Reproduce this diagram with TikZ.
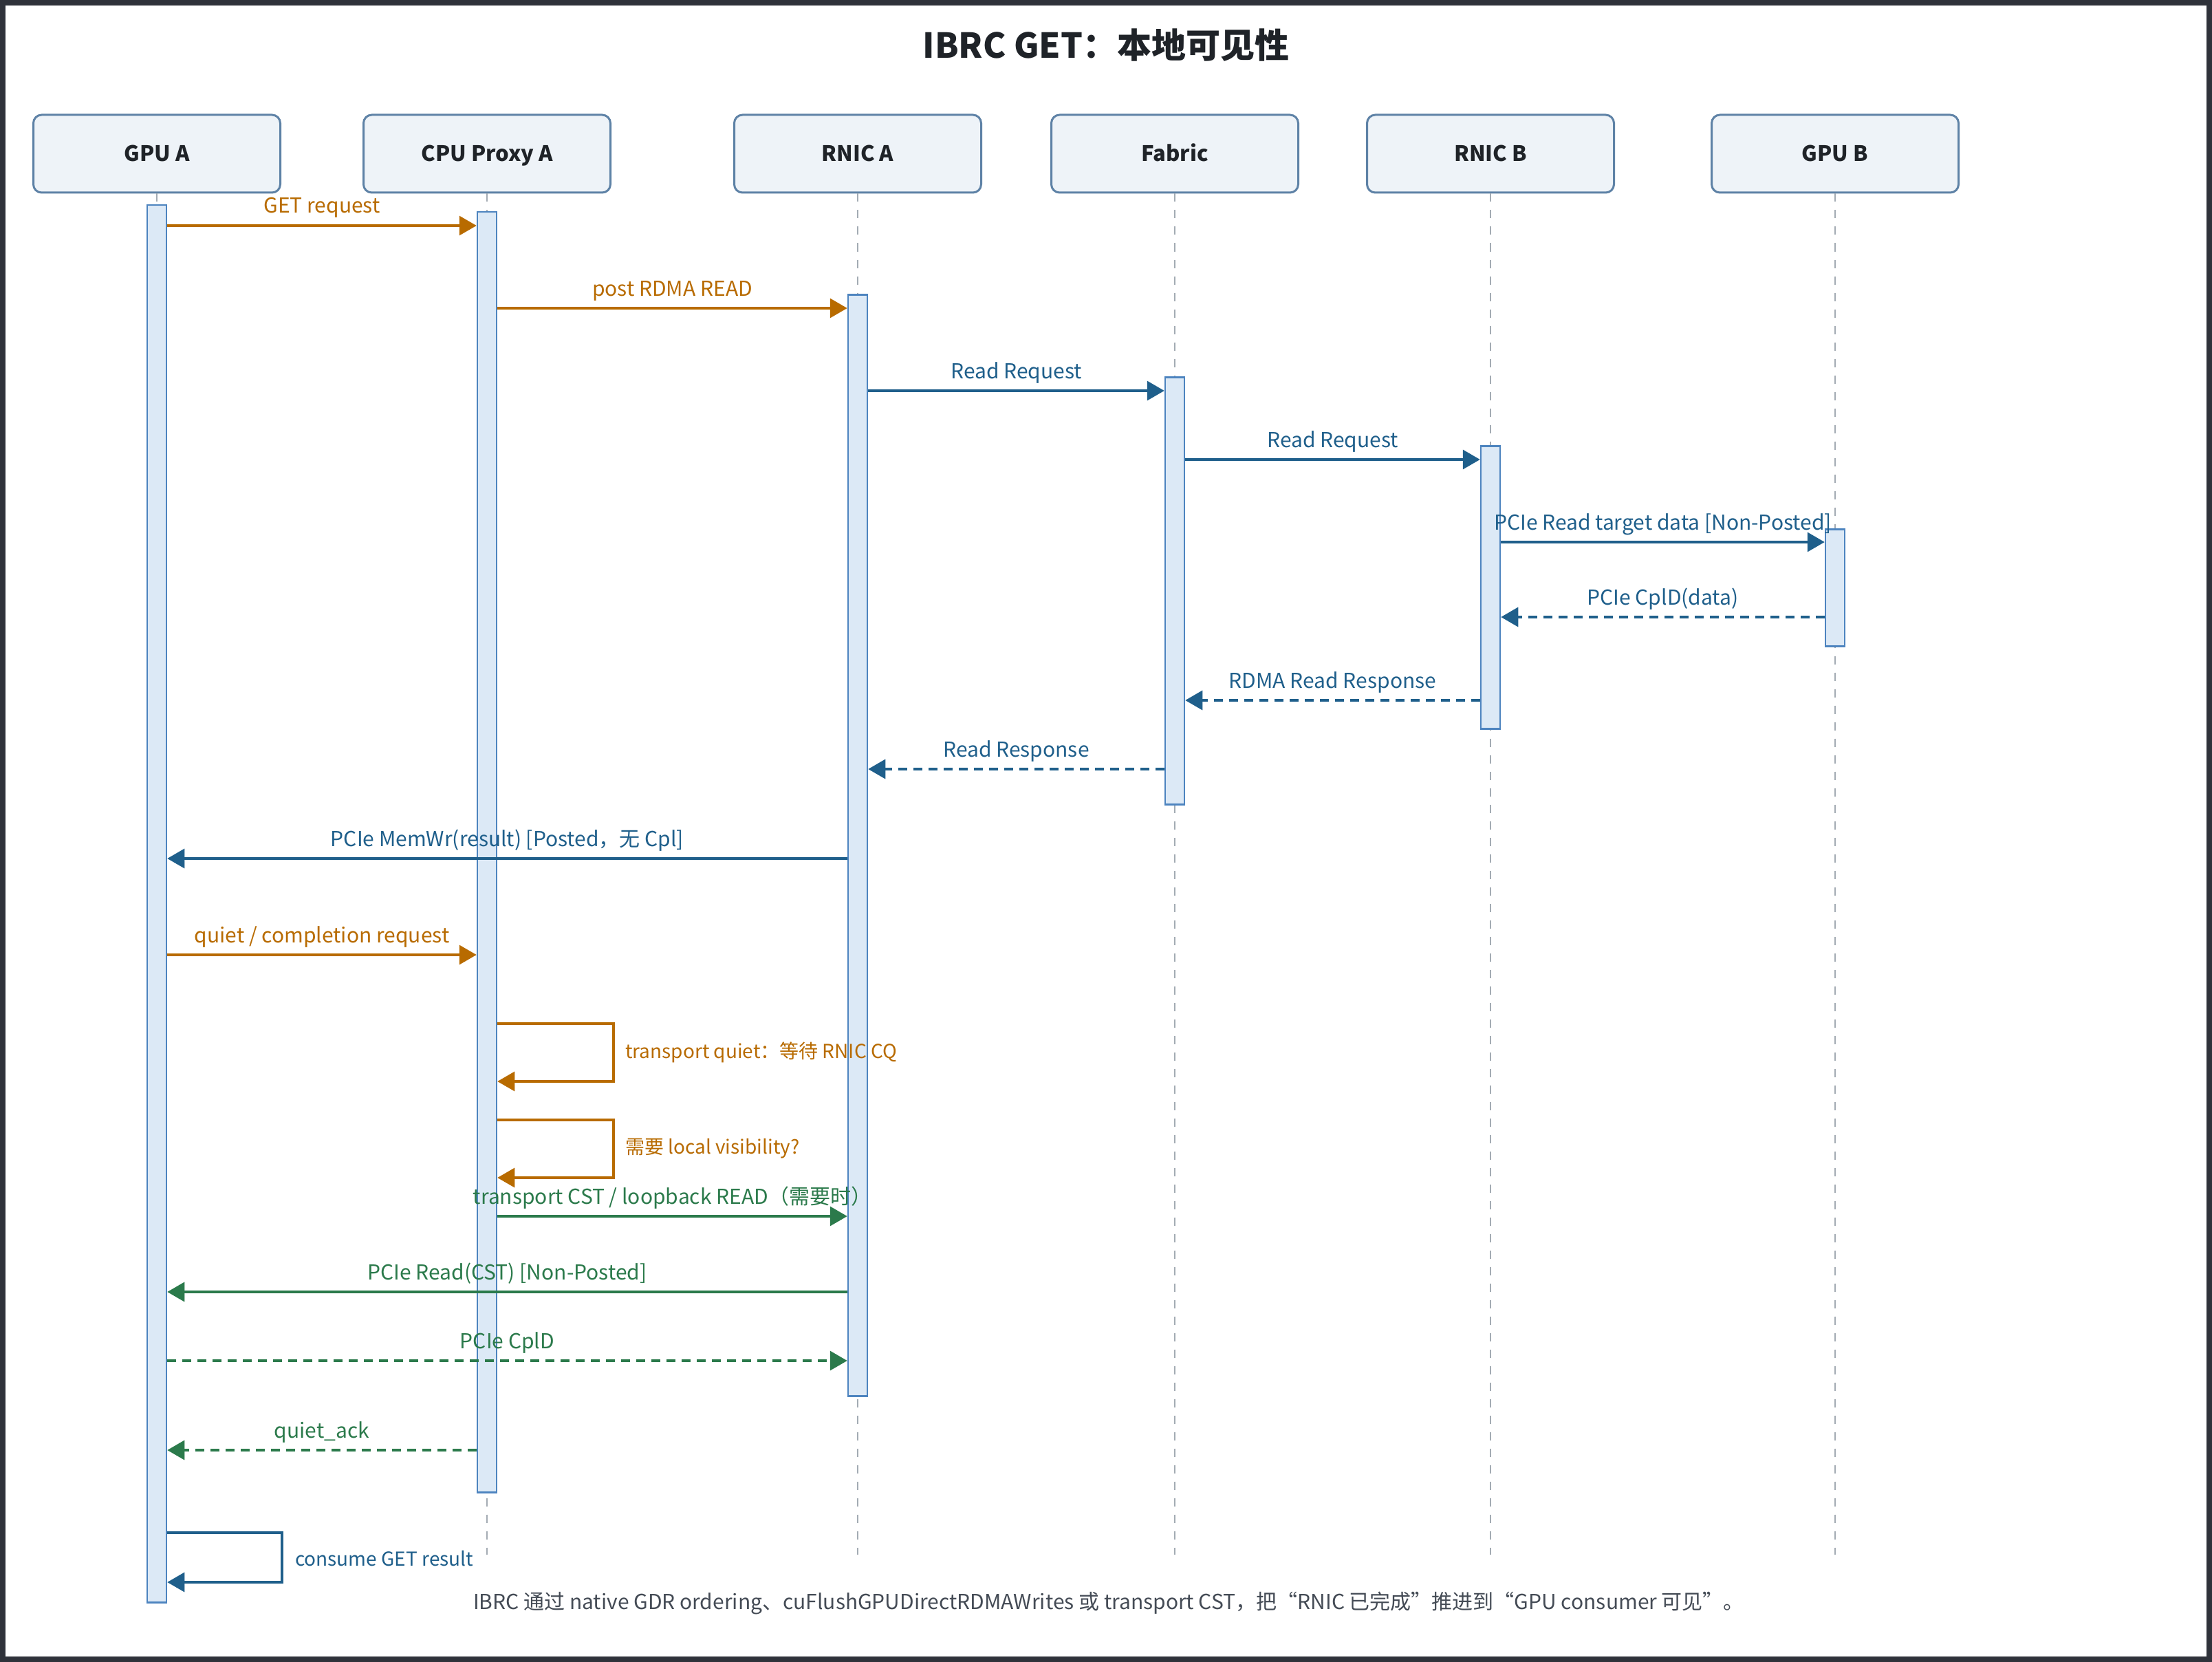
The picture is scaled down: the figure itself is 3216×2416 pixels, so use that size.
\documentclass[tikz,border=0pt]{standalone}
\usepackage{fontspec}
\setmainfont{Noto Sans CJK SC}
\usetikzlibrary{arrows.meta}
\definecolor{framecol}{HTML}{2F323A}
\definecolor{boxfill}{HTML}{EEF3F8}
\definecolor{boxdraw}{HTML}{5E82A6}
\definecolor{inkcol}{HTML}{1F2328}
\definecolor{lifecol}{HTML}{A3ABB3}
\definecolor{barfill}{HTML}{DCE9F6}
\definecolor{bardraw}{HTML}{4D84BF}
\definecolor{ocol}{HTML}{B86B00}
\definecolor{bcol}{HTML}{1F5F8B}
\definecolor{gcol}{HTML}{2B7A4B}
\definecolor{footcol}{HTML}{444B55}
\begin{document}
\begin{tikzpicture}[x=1pt,y=-1pt,
  participant/.style={draw=boxdraw, fill=boxfill, line width=3pt, rounded corners=12pt,
    minimum width=359pt, minimum height=113pt, inner sep=0pt, text=inkcol,
    text height=23pt, text depth=0pt,
    font=\fontsize{31pt}{37pt}\selectfont\bfseries},
  life/.style={draw=lifecol, line width=2pt, dash pattern=on 12pt off 12pt},
  actbar/.style={draw=bardraw, fill=barfill, line width=2.5pt, minimum width=28pt,
    inner sep=0pt, anchor=north},
  msg/.style={line width=3.5pt, -{Triangle[length=25pt,width=28pt]}},
  omsg/.style={msg, draw=ocol, text=ocol},
  bmsg/.style={msg, draw=bcol, text=bcol},
  gmsg/.style={msg, draw=gcol, text=gcol},
  ret/.style={dash pattern=on 13pt off 9pt},
  lbl/.style={anchor=base, yshift=18pt, inner sep=0pt, font=\fontsize{30pt}{36pt}\selectfont},
  looplbl/.style={anchor=west, inner sep=0pt, font=\fontsize{28pt}{34pt}\selectfont}
]
\useasboundingbox (0,0) rectangle (3216,2416);
\fill[framecol] (0,0) rectangle (3216,2416);
\fill[white] (8,8) rectangle (3208,2408);

\node[inner sep=0pt, text=inkcol, font=\fontsize{50pt}{58pt}\selectfont\bfseries] (title) at (1608,66) {IBRC GET：本地可见性};

% participants
\node[participant] (gpua) at (228,223.5) {GPU A};
\node[participant] (cpua) at (708,223.5) {CPU Proxy A};
\node[participant] (rnica) at (1247,223.5) {RNIC A};
\node[participant] (fab) at (1708,223.5) {Fabric};
\node[participant] (rnicb) at (2167,223.5) {RNIC B};
\node[participant] (gpub) at (2668,223.5) {GPU B};

% lifeline ends
\coordinate (gpuaend) at (228,2260);
\coordinate (cpuaend) at (708,2260);
\coordinate (rnicaend) at (1247,2260);
\coordinate (fabend) at (1708,2260);
\coordinate (rnicbend) at (2167,2260);
\coordinate (gpubend) at (2668,2260);
\foreach \p in {gpua,cpua,rnica,fab,rnicb,gpub}{
  \draw[life] (\p.south) -- (\p end);
}

% activation bars
\node[actbar, minimum height=2031pt] (actgpua) at (228,297) {};
\node[actbar, minimum height=1861pt] (actcpua) at (708,307) {};
\node[actbar, minimum height=1601pt] (actrnica) at (1247,427) {};
\node[actbar, minimum height=621pt] (actfab) at (1708,547) {};
\node[actbar, minimum height=411pt] (actrnicb) at (2167,647) {};
\node[actbar, minimum height=170pt] (actgpub) at (2668,768) {};

% messages
\draw[omsg] (actgpua.east |- 0,328) -- node[lbl]{GET request} (actcpua.west |- 0,328);
\draw[omsg] (actcpua.east |- 0,448) -- node[lbl]{post RDMA READ} (actrnica.west |- 0,448);
\draw[bmsg] (actrnica.east |- 0,568) -- node[lbl]{Read Request} (actfab.west |- 0,568);
\draw[bmsg] (actfab.east |- 0,668) -- node[lbl]{Read Request} (actrnicb.west |- 0,668);
\draw[bmsg] (actrnicb.east |- 0,788) -- node[lbl]{PCIe Read target data [Non-Posted]} (actgpub.west |- 0,788);
\draw[bmsg, ret] (actgpub.west |- 0,897) -- node[lbl]{PCIe CplD(data)} (actrnicb.east |- 0,897);
\draw[bmsg, ret] (actrnicb.west |- 0,1018) -- node[lbl]{RDMA Read Response} (actfab.east |- 0,1018);
\draw[bmsg, ret] (actfab.west |- 0,1118) -- node[lbl]{Read Response} (actrnica.east |- 0,1118);
\draw[bmsg] (actrnica.west |- 0,1248) -- node[lbl]{PCIe MemWr(result) [Posted，无 Cpl]} (actgpua.east |- 0,1248);
\draw[omsg] (actgpua.east |- 0,1388) -- node[lbl]{quiet / completion request} (actcpua.west |- 0,1388);

\draw[omsg] (actcpua.east |- 0,1488) -- (892,1488) -- (892,1572) -- (actcpua.east |- 0,1572);
\node[looplbl, text=ocol] (loop1lbl) at (909,1530) {transport quiet：等待 RNIC CQ};
\draw[omsg] (actcpua.east |- 0,1628) -- (892,1628) -- (892,1712) -- (actcpua.east |- 0,1712);
\node[looplbl, text=ocol] (loop2lbl) at (909,1670) {需要 local visibility?};

\draw[gmsg] (actcpua.east |- 0,1768) -- node[lbl]{transport CST / loopback READ（需要时）} (actrnica.west |- 0,1768);
\draw[gmsg] (actrnica.west |- 0,1878) -- node[lbl]{PCIe Read(CST) [Non-Posted]} (actgpua.east |- 0,1878);
\draw[gmsg, ret] (actgpua.east |- 0,1978) -- node[lbl]{PCIe CplD} (actrnica.west |- 0,1978);
\draw[gmsg, ret] (actcpua.west |- 0,2108) -- node[lbl]{quiet\_ack} (actgpua.east |- 0,2108);

\draw[bmsg] (actgpua.east |- 0,2228) -- (410,2228) -- (410,2300) -- (actgpua.east |- 0,2300);
\node[looplbl, text=bcol, font=\fontsize{28pt}{33pt}\selectfont] (loop3lbl) at (429,2266) {consume GET result};

\node[inner sep=0pt, text=footcol, font=\fontsize{30pt}{36pt}\selectfont] (footer) at (1612,2330) {IBRC 通过 native GDR ordering、cuFlushGPUDirectRDMAWrites 或 transport CST，把“RNIC 已完成”推进到“GPU consumer 可见”。};
\end{tikzpicture}
\end{document}
